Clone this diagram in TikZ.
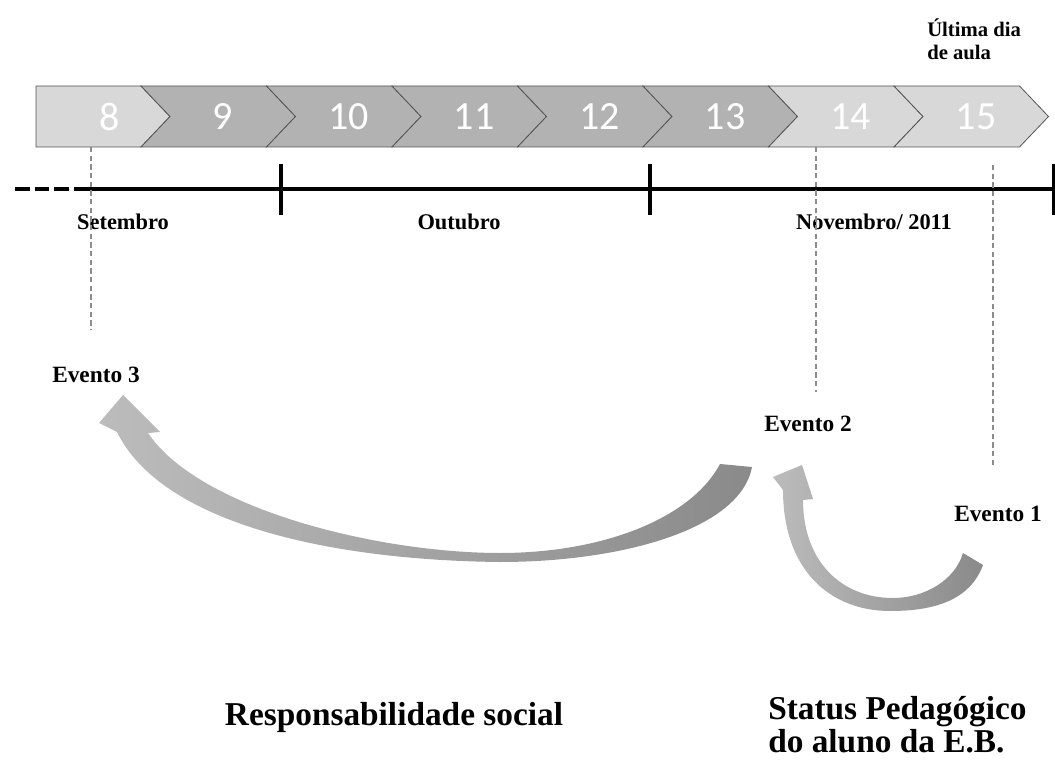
\documentclass[tikz,border=0pt]{standalone}
\usepackage{fontspec}
\setmainfont{Liberation Serif}
\newfontfamily\digitfont{Carlito}
\definecolor{chevL}{RGB}{216,216,216}
\definecolor{chevD}{RGB}{178,178,178}
\definecolor{chevB}{RGB}{85,85,85}
\definecolor{arrL}{RGB}{188,188,188}
\definecolor{arrD}{RGB}{138,138,138}
\definecolor{guide}{RGB}{140,140,140}
\begin{document}
\begin{tikzpicture}[x=0.75pt,y=-0.75pt,
  chevlight/.style={fill=chevL,draw=chevB,line width=0.6pt},
  chevdark/.style={fill=chevD,draw=chevB,line width=0.6pt},
  daynum/.style={text=white,font=\digitfont\fontsize{30}{30}\selectfont,inner sep=0pt},
  month/.style={font=\bfseries\fontsize{16.8}{18}\selectfont,inner sep=0pt},
  evento/.style={font=\bfseries\fontsize{17.5}{19}\selectfont,inner sep=0pt},
  topnote/.style={font=\bfseries\fontsize{15.5}{17}\selectfont,align=left,inner sep=0pt},
  theme/.style={font=\bfseries\fontsize{25}{25}\selectfont,align=left,inner sep=0pt},
  axisline/.style={line width=2.6pt,black},
  axisdash/.style={line width=2.6pt,black,dash pattern=on 11pt off 3.7pt},
  tickmark/.style={line width=2.6pt,black},
  guideline/.style={draw=guide,line width=0.9pt,dash pattern=on 4pt off 2.5pt},
  bigarrow/.style={left color=arrL,right color=arrD,draw=none},
]
\useasboundingbox (0,0) rectangle (1055,762);

% chevron bar
\path[chevlight] (36,86) -- (141,86) -- (170,116.5) -- (141,147) -- (36,147) -- cycle;
\foreach \k/\st in {1/chevdark,2/chevdark,3/chevdark,4/chevdark,5/chevdark,6/chevlight,7/chevlight}{
  \pgfmathsetmacro{\n}{141+125.5*(\k-1)}
  \path[\st] (\n,86) -- ({\n+125.5},86) -- ({\n+154.5},116.5) -- ({\n+125.5},147) -- (\n,147) -- ({\n+29},116.5) -- cycle;
}
\node[daynum] (d8) at (110,117) {8};
\foreach \num/\xx in {9/223,10/348.5,11/474,12/599.5,13/725,14/850.5,15/976}{
  \node[daynum] (d\num) at (\xx,117) {\num};
}

% top note
\node[topnote,anchor=north west] (ultima) at (927,19) {Última dia\\de aula};

% timeline
\coordinate (tl0) at (15,189);
\coordinate (tl1) at (77,189);
\coordinate (tl2) at (1056,189);
\draw[axisdash] (tl0) -- (tl1);
\draw[axisline] (tl1) -- (tl2);
\coordinate (ta1) at (281,164); \coordinate (tb1) at (281,215);
\coordinate (ta2) at (650,164); \coordinate (tb2) at (650,215);
\coordinate (ta3) at (1054,164); \coordinate (tb3) at (1054,215);
\draw[tickmark] (ta1) -- (tb1);
\draw[tickmark] (ta2) -- (tb2);
\draw[tickmark] (ta3) -- (tb3);

% month labels
\node[month] (set) at (123,222) {Setembro};
\node[month] (out) at (459,222) {Outubro};
\node[month] (nov) at (874,222) {Novembro/ 2011};

% guide lines
\coordinate (g1a) at (91,147);  \coordinate (g1b) at (91,330);
\coordinate (g2a) at (816,147); \coordinate (g2b) at (816,392);
\coordinate (g3a) at (993,165); \coordinate (g3b) at (993,467);
\draw[guideline] (g1a) -- (g1b);
\draw[guideline] (g2a) -- (g2b);
\draw[guideline] (g3a) -- (g3b);

% events
\node[evento] (ev3) at (96,375) {Evento 3};
\node[evento] (ev2) at (808,424) {Evento 2};
\node[evento] (ev1) at (998,514) {Evento 1};

% big curved arrow (Evento 2 -> Evento 3)
\shade[bigarrow] (123,395) -- (160,432) -- (148,433)
  .. controls (200,510) and (380,553) .. (500,553)
  .. controls (600,553) and (690,520) .. (720,464)
  -- (752,467)
  .. controls (740,530) and (620,562) .. (500,562)
  .. controls (320,560) and (160,520) .. (117,432)
  -- (99,423) -- cycle;

% small curved arrow (Evento 1 -> Evento 2)
\shade[bigarrow] (802,465) -- (813,499) -- (803,500)
  .. controls (803,560) and (840,598) .. (893,598)
  .. controls (925,598) and (955,580) .. (963,553)
  -- (983,565)
  .. controls (970,600) and (935,611) .. (890,611)
  .. controls (830,611) and (783,570) .. (783,490)
  -- (773,477) -- cycle;

% theme labels
\node[theme] (resp) at (394,717) {Responsabilidade social};
\node[theme,anchor=north west] (status) at (768,696) {Status Pedagógico\\do aluno da E.B.};
\end{tikzpicture}
\end{document}
